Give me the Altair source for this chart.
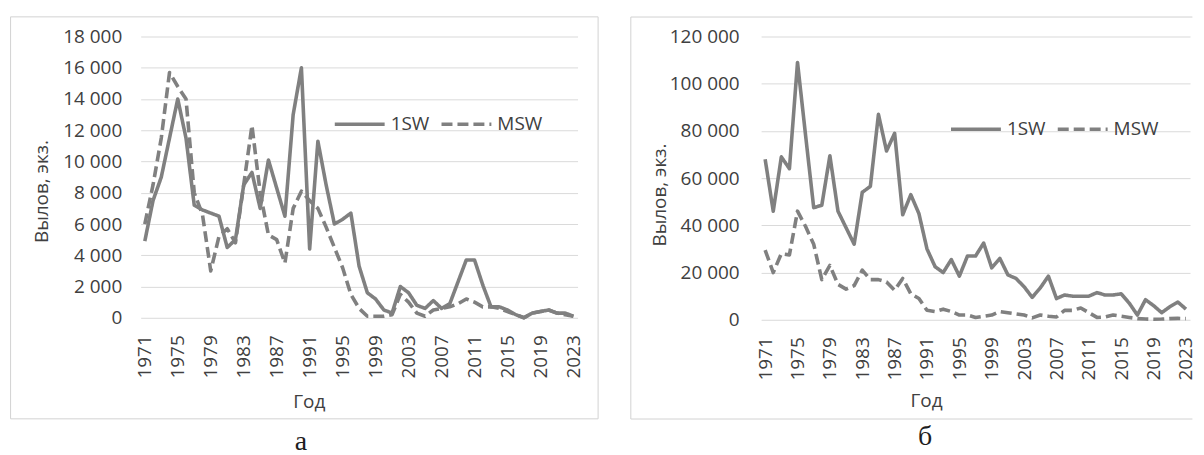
import altair as alt
import pandas as pd

years = list(range(1971, 2024))

# Panel а (left): catch, individuals
a_1sw = [4900, 7500, 9000, 11500, 14000, 11500, 7200, 6900, 6700, 6500,
         4500, 5000, 8500, 9300, 7000, 10100, 8300, 6500, 13000, 16000,
         4400, 11300, 8500, 6000, 6300, 6700, 3300, 1600, 1200, 500,
         300, 2000, 1600, 800, 600, 1100, 600, 900, 2300, 3700,
         3700, 2100, 700, 700, 500, 200, 0, 300, 400, 500,
         300, 300, 100]
a_msw = [6000, 8500, 11500, 15700, 14800, 14000, 8000, 6600, 3000, 5200,
         5700, 4800, 8500, 12300, 8000, 5300, 5000, 3500, 7000, 8100,
         7500, 7000, 5800, 4500, 3200, 1500, 600, 100, 100, 100,
         200, 1500, 1000, 300, 100, 500, 600, 700, 900, 1200,
         1000, 700, 700, 600, 400, 200, 0, 300, 400, 500,
         300, 200, 100]

# Panel б (right)
b_1sw = [68000, 46000, 69000, 64000, 109000, 78000, 47500, 48500, 69500, 46000,
         39000, 32000, 54000, 56500, 87000, 71500, 79000, 44500, 53000, 45000,
         30000, 22500, 20000, 25500, 18500, 27000, 27000, 32500, 22000, 26000,
         19000, 17500, 14000, 9500, 13500, 18500, 9000, 10500, 10000, 10000,
         10000, 11500, 10500, 10500, 11000, 7000, 2000, 8500, 6000, 3000,
         5500, 7500, 4500]
b_msw = [29500, 20000, 28000, 27500, 46000, 39500, 32000, 17000, 23000, 15000,
         13000, 14500, 21000, 17000, 17000, 16000, 12500, 17500, 11000, 9000,
         4000, 3500, 4500, 3500, 2000, 2000, 1000, 1500, 2000, 3500,
         3000, 2500, 2000, 800, 2000, 1500, 1200, 4000, 4000, 5000,
         3000, 1000, 1200, 2000, 1500, 1000, 500, 300, 200, 300,
         500, 600, 500]

series_names = ["1SW", "MSW"]
y_title = "Вылов, экз."
x_title = "Год"
panel_labels = ["а", "б"]
x_ticks = list(range(1971, 2024, 4))
a_y_ticks = list(range(0, 18001, 2000))
b_y_ticks = list(range(0, 120001, 20000))

LINE = "#808080"
TEXT = "#404040"
GRID = "#dadada"
FRAME = "#d2d2d2"
FONT = "Open Sans"
FS = 19


def long_df(s1, s2):
    n = len(years)
    return pd.DataFrame({
        "year": years * 2,
        "value": s1 + s2,
        "series": [series_names[0]] * n + [series_names[1]] * n,
    })


def panel(df, yticks, ymax, w, h, ylabpad, ytx, yty, xtx, xty, legx, legy,
          fx0, fx1, fy0, fy1, right_edge, label, lx, ly):
    lines = alt.Chart(df).mark_line(strokeWidth=3.6, strokeJoin="round").encode(
        x=alt.X("year:Q",
                scale=alt.Scale(domain=[1970.5, 2023.5], nice=False, zero=False),
                axis=alt.Axis(values=x_ticks, format="d", labelAngle=270,
                              labelPadding=17, labelFlush=False, labelOverlap=False,
                              domain=False, ticks=False, grid=False,
                              title=x_title, titleX=xtx, titleY=xty,
                              titleAlign="center", titleBaseline="middle")),
        y=alt.Y("value:Q",
                scale=alt.Scale(domain=[0, ymax], nice=False),
                axis=alt.Axis(values=yticks,
                              labelExpr="replace(format(datum.value, ','), ',', ' ')",
                              labelPadding=ylabpad, labelFlush=False,
                              domain=False, ticks=False, grid=True,
                              gridColor=GRID, gridWidth=1,
                              title=y_title, titleX=ytx, titleY=yty,
                              titleAngle=270, titleAlign="center",
                              titleBaseline="middle")),
        strokeDash=alt.StrokeDash(
            "series:N",
            scale=alt.Scale(domain=series_names, range=[[1, 0], [11, 5]]),
            legend=alt.Legend(orient="none", legendX=legx, legendY=legy,
                              direction="horizontal", title=None,
                              symbolType="stroke", symbolSize=2500,
                              symbolStrokeWidth=3.6, symbolStrokeColor=LINE,
                              labelFont=FONT, labelFontSize=FS, labelColor=TEXT,
                              labelOffset=4, columnPadding=4)),
        color=alt.value(LINE),
    ).properties(width=w, height=h)

    one = pd.DataFrame({"label": [label]})
    if right_edge:
        frame = alt.Chart(one).mark_rect(fillOpacity=0, stroke=FRAME, strokeWidth=1).encode(
            x=alt.value(fx0), x2=alt.value(fx1), y=alt.value(fy0), y2=alt.value(fy1))
        frames = [frame]
    else:
        left = alt.Chart(one).mark_rule(color=FRAME, strokeWidth=1).encode(
            x=alt.value(fx0), y=alt.value(fy0), y2=alt.value(fy1))
        top = alt.Chart(one).mark_rule(color=FRAME, strokeWidth=1).encode(
            x=alt.value(fx0), x2=alt.value(fx1), y=alt.value(fy0))
        bottom = alt.Chart(one).mark_rule(color=FRAME, strokeWidth=1).encode(
            x=alt.value(fx0), x2=alt.value(fx1), y=alt.value(fy1))
        frames = [left, top, bottom]

    caption = alt.Chart(one).mark_text(font="Liberation Serif", fontSize=28,
                                       baseline="alphabetic", align="center",
                                       color="#1e1e1e").encode(
        text="label:N", x=alt.value(lx), y=alt.value(ly))

    return alt.layer(*frames, lines, caption)


left = panel(long_df(a_1sw, a_msw), a_y_ticks, 18000, 438, 282, 19,
             -99.4, 155, 168.6, 84, 192.6, 61,
             -130.4, 458.6, -19.7, 383.3, True, panel_labels[0], 160.6, 414.5)
right = panel(long_df(b_1sw, b_msw), b_y_ticks, 120000, 430, 284, 22,
              -101.8, 158.5, 165.4, 80.7, 188.4, 66,
              -130.6, 432.4, -19.5, 383.5, False, panel_labels[1], 164.4, 410)

chart = alt.hconcat(left, right, spacing=30).resolve_legend(
    strokeDash="independent").resolve_scale(y="independent").properties(
    padding={"left": 2, "top": 7, "right": 0, "bottom": 0},
    background="white",
).configure_view(strokeWidth=0).configure_axis(
    labelFont=FONT, labelFontSize=FS, labelColor=TEXT,
    titleFont=FONT, titleFontSize=FS, titleColor=TEXT, titleFontWeight="normal",
)

chart.save("out.html", embed_options={"renderer": "svg", "actions": False})
